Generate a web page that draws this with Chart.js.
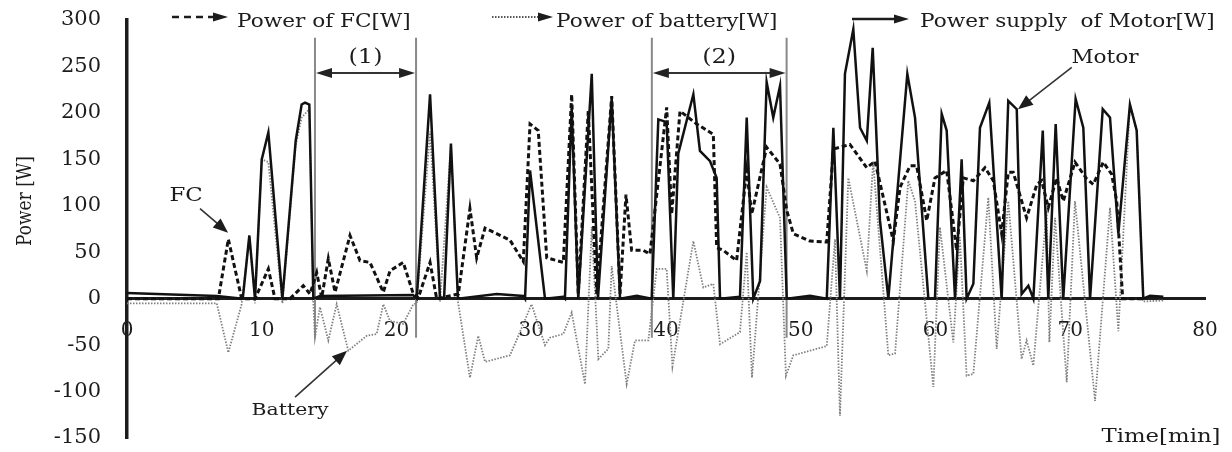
<!DOCTYPE html>
<html>
<head>
<meta charset="utf-8">
<title>Power of FC, battery and motor</title>
<script src="https://cdn.jsdelivr.net/npm/chart.js@4"></script>
<style>
  html, body { margin: 0; padding: 0; background: #fff; }
  #chart { display: block; }
</style>
</head>
<body>
<canvas id="chart" width="1232" height="452"></canvas>
<script>
"use strict";

// Motor supply [W] against time [min]
const motorTime = [0, 6.66, 8.59, 9.08, 9.50, 10.0, 10.49, 11.53, 12.52, 12.96, 13.21, 13.53, 13.83, 14.32, 21.22, 21.50, 22.49, 23.23, 23.53, 24.04, 24.56, 27.44, 29.41, 29.54, 29.91, 31.02, 32.36, 32.50, 33.00, 33.49, 34.49, 34.95, 35.97, 36.59, 37.83, 38.94, 39.43, 40.05, 40.54, 40.91, 42.03, 42.52, 43.27, 43.76, 44.01, 45.49, 45.99, 46.48, 46.98, 47.47, 47.96, 48.46, 48.96, 50.69, 51.93, 52.42, 52.91, 53.28, 53.90, 54.40, 54.90, 55.34, 55.88, 56.50, 57.91, 58.48, 59.47, 59.96, 60.46, 60.83, 61.45, 61.94, 62.31, 62.81, 63.30, 63.99, 64.91, 65.40, 66.03, 66.39, 66.89, 67.26, 67.96, 68.37, 68.92, 69.48, 70.40, 70.97, 71.47, 72.41, 72.95, 73.57, 74.43, 74.93, 75.42, 75.92, 76.91];
const motorPower = [6, 3, 0, 68, 0, 150, 179, 0, 170, 209, 211, 209, 0, 3, 4, 0, 220, 0, 0, 167, 0, 5, 3, 0, 138, 0, 2, 0, 205, 0, 242, 0, 216, 0, 3, 0, 193, 190, 0, 156, 220, 159, 148, 130, 0, 2, 195, 0, 19, 233, 195, 229, 0, 3, 0, 184, 0, 242, 290, 184, 170, 270, 84, 0, 242, 195, 0, 0, 199, 181, 0, 150, 0, 16, 184, 211, 0, 213, 204, 5, 14, 0, 181, 0, 188, 0, 215, 184, 0, 204, 195, 70, 209, 181, 0, 3, 2];

// Fuel cell output [W]
const fcTime = [0, 6.78, 7.52, 8.51, 9.50, 10.49, 10.98, 12.10, 13.08, 13.58, 14.08, 14.45, 14.94, 15.44, 16.55, 17.29, 18.03, 19.02, 19.52, 20.50, 21.25, 21.62, 22.49, 22.98, 24.59, 25.45, 25.95, 26.57, 28.42, 29.41, 29.91, 30.52, 31.15, 32.38, 33.00, 33.49, 34.23, 34.86, 35.97, 36.59, 37.03, 37.45, 38.32, 38.81, 40.05, 40.42, 41.04, 42.28, 43.51, 43.76, 44.25, 45.24, 45.99, 46.36, 47.47, 48.46, 48.96, 49.45, 50.69, 51.93, 52.42, 53.65, 54.90, 55.51, 56.87, 57.37, 58.11, 58.60, 59.35, 59.96, 60.83, 61.57, 62.06, 62.81, 63.67, 64.29, 64.91, 65.40, 65.77, 66.76, 67.52, 67.88, 68.37, 68.99, 69.48, 70.35, 71.22, 71.71, 72.45, 73.07, 73.45, 73.89, 75.42];
const fcPower = [0, 0, 64, 0, 0, 32, 0, 0, 14, 5, 28, 1, 43, 7, 68, 41, 39, 7, 30, 39, 5, 1, 39, 0, 5, 97, 44, 76, 63, 40, 188, 181, 44, 39, 220, 5, 202, 5, 218, 5, 112, 52, 52, 48, 206, 91, 202, 188, 177, 55, 52, 41, 138, 91, 163, 145, 95, 70, 62, 61, 161, 166, 141, 148, 62, 120, 143, 143, 84, 130, 138, 52, 130, 127, 141, 127, 70, 136, 136, 87, 123, 127, 98, 130, 105, 147, 129, 123, 147, 134, 105, 0, 0];

// Battery output [W], negative while charging
const batteryTime = [0, 6.66, 7.52, 8.51, 9.08, 9.50, 10.0, 10.49, 11.53, 12.52, 12.96, 13.53, 13.83, 13.95, 14.32, 14.94, 15.56, 16.42, 17.79, 18.53, 19.02, 19.52, 20.50, 21.25, 21.50, 22.49, 23.23, 24.04, 24.56, 25.45, 26.07, 26.57, 28.42, 28.90, 30.02, 31.02, 31.39, 32.38, 33.00, 33.99, 34.49, 34.98, 35.72, 35.97, 37.08, 37.70, 38.69, 39.31, 40.05, 40.48, 42.03, 42.77, 43.51, 44.01, 45.49, 45.99, 46.38, 47.47, 48.46, 48.90, 49.45, 50.69, 51.93, 52.54, 52.91, 53.53, 54.90, 55.37, 56.50, 57.00, 57.98, 58.48, 59.84, 60.33, 61.32, 61.81, 62.31, 62.81, 63.92, 64.54, 65.40, 66.39, 66.76, 67.26, 68.25, 68.45, 68.87, 69.74, 70.35, 71.84, 72.95, 73.57, 74.43, 74.93, 75.42, 76.91];
const batteryPower = [-5, -5, -58, -6, 68, -5, 150, 147, -5, 165, 195, 204, -5, -42, -9, -45, -6, -56, -40, -38, -6, -24, -27, -6, -5, 180, -3, 166, -3, -85, -40, -68, -61, -45, -6, -50, -42, -38, -15, -92, 77, -65, -54, 35, -92, -45, -45, 32, 32, -73, 62, 12, 16, -49, -36, 50, -85, 120, 87, -83, -61, -56, -51, 64, -126, 130, 30, 148, -61, -59, 127, 105, -95, 77, -47, 66, -83, -81, 109, -54, 105, -65, -45, -72, 95, -47, 87, -90, 105, -110, 98, -35, 209, 181, -3, -2];

const timeRange = [0, 80];
const powerRange = [-150, 300];

const serif = "'DejaVu Serif', serif";
const ink = "#1c1c1c";

function points(times, values) {
    return times.map((t, i) => ({ x: t, y: values[i] }));
}

// the lettering in the original is a little wider than DejaVu, so stretch it
function wideText(ctx, text, px, py, size, align, baseline, stretch = 1.2) {
    ctx.save();
    ctx.font = `${size}px ${serif}`;
    ctx.fillStyle = ink;
    ctx.textAlign = align;
    ctx.textBaseline = baseline;
    ctx.translate(px, py);
    ctx.scale(stretch, 1);
    ctx.fillText(text, 0, 0);
    ctx.restore();
}

function arrowHead(ctx, fromX, fromY, toX, toY, len, half) {
    const a = Math.atan2(toY - fromY, toX - fromX);
    const bx = toX - len * Math.cos(a);
    const by = toY - len * Math.sin(a);
    ctx.beginPath();
    ctx.moveTo(toX, toY);
    ctx.lineTo(bx + half * Math.sin(a), by - half * Math.cos(a));
    ctx.lineTo(bx - half * Math.sin(a), by + half * Math.cos(a));
    ctx.closePath();
    ctx.fill();
}

function line(ctx, x1, y1, x2, y2, color, width, dash = []) {
    ctx.save();
    ctx.strokeStyle = color;
    ctx.lineWidth = width;
    ctx.setLineDash(dash);
    ctx.beginPath();
    ctx.moveTo(x1, y1);
    ctx.lineTo(x2, y2);
    ctx.stroke();
    ctx.restore();
}

// legend along the top edge (canvas pixels)
const legendItems = [
    { text: "Power of FC[W]", x0: 172, x1: 228, y: 17, dash: [7, 5], width: 2.5, color: ink, tx: 237 },
    { text: "Power of battery[W]", x0: 492, x1: 553, y: 17, dash: [1.5, 1.5], width: 2, color: "#555", tx: 556 },
    { text: "Power supply  of Motor[W]", x0: 852, x1: 909, y: 19, dash: [], width: 2.5, color: ink, tx: 920 }
];

// marked intervals and callouts, in data units
const regions = [
    { label: "(1)", from: 13.95, to: 21.45 },
    { label: "(2)", from: 38.95, to: 48.95 }
];
const callouts = [
    { text: "FC", at: [4.38, 110], from: [5.42, 97], to: [7.5, 71], size: 19 },
    { text: "Battery", at: [12.1, -120], from: [12.47, -106], to: [16.33, -56], size: 17 },
    { text: "Motor", at: [72.58, 259], from: [70.11, 249], to: [66.12, 204], size: 18 }
];

const overlay = {
    id: "overlay",
    beforeDatasetsDraw(chart) {
        const { ctx, scales: { x, y } } = chart;
        regions.forEach(r => {
            [r.from, r.to].forEach(t => {
                const px = x.getPixelForValue(t);
                line(ctx, px, y.getPixelForValue(281), px, y.getPixelForValue(-42), "#888", 2);
            });
        });
    },
    afterDraw(chart) {
        const { ctx, scales: { x, y } } = chart;
        ctx.save();
        ctx.fillStyle = ink;

        legendItems.forEach(item => {
            line(ctx, item.x0, item.y, item.x1 - 12, item.y, item.color, item.width, item.dash);
            arrowHead(ctx, item.x0, item.y, item.x1, item.y, 15, 4.5);
            wideText(ctx, item.text, item.tx, 26.5, 18, "left", "alphabetic");
        });

        regions.forEach(r => {
            const xa = x.getPixelForValue(r.from);
            const xb = x.getPixelForValue(r.to);
            const py = y.getPixelForValue(243);
            line(ctx, xa + 10, py, xb - 10, py, "#333", 2);
            ctx.fillStyle = "#222";
            arrowHead(ctx, xb, py, xa + 1, py, 16, 5);
            arrowHead(ctx, xa, py, xb - 1, py, 16, 5);
            wideText(ctx, r.label, (xa + xb) / 2, y.getPixelForValue(259), 20, "center", "middle");
        });

        callouts.forEach(c => {
            const fx = x.getPixelForValue(c.from[0]);
            const fy = y.getPixelForValue(c.from[1]);
            const tx = x.getPixelForValue(c.to[0]);
            const ty = y.getPixelForValue(c.to[1]);
            const a = Math.atan2(ty - fy, tx - fx);
            line(ctx, fx, fy, tx - 10 * Math.cos(a), ty - 10 * Math.sin(a), "#333", 1.6);
            ctx.fillStyle = ink;
            arrowHead(ctx, fx, fy, tx, ty, 15, 6);
            wideText(ctx, c.text, x.getPixelForValue(c.at[0]), y.getPixelForValue(c.at[1]), c.size, "center", "middle");
        });

        // axis titles
        ctx.save();
        ctx.translate(26, 201);
        ctx.rotate(-Math.PI / 2);
        ctx.scale(1, 1.2);
        ctx.font = `17px ${serif}`;
        ctx.fillStyle = ink;
        ctx.textAlign = "center";
        ctx.textBaseline = "middle";
        ctx.fillText("Power [W]", 0, 0);
        ctx.restore();

        wideText(ctx, "Time[min]", 1161, 437, 19, "center", "middle");
        ctx.restore();
    }
};

new Chart(document.getElementById("chart"), {
    type: "line",
    data: {
        datasets: [
            { label: "Motor", data: points(motorTime, motorPower), borderColor: "#111", borderWidth: 2.5, order: 0 },
            { label: "FC", data: points(fcTime, fcPower), borderColor: "#111", borderWidth: 3, borderDash: [5, 3], order: 1 },
            { label: "Battery", data: points(batteryTime, batteryPower), borderColor: "#808080", borderWidth: 1.8, borderDash: [1.5, 1.5], order: 2 }
        ]
    },
    options: {
        responsive: false,
        animation: false,
        devicePixelRatio: 1,
        layout: { padding: { top: 20, right: 27, bottom: 14, left: 0 } },
        elements: { point: { radius: 0 }, line: { tension: 0, fill: false } },
        plugins: { legend: { display: false }, tooltip: { enabled: false } },
        scales: {
            x: {
                type: "linear",
                min: timeRange[0],
                max: timeRange[1],
                position: { y: 0 },
                grid: { display: false, drawTicks: false },
                border: { display: true, width: 3, color: ink },
                ticks: { stepSize: 10, padding: 20, maxRotation: 0, color: ink, font: { family: serif, size: 20 } },
                // the axis sits inside the plot, so it should not take room from it
                afterFit(scale) { scale.height = 0; scale.paddingLeft = 0; scale.paddingRight = 0; }
            },
            y: {
                min: powerRange[0],
                max: powerRange[1],
                grid: { display: false, drawTicks: false },
                border: { display: true, width: 3.5, color: ink },
                ticks: { stepSize: 50, padding: 26, color: ink, font: { family: serif, size: 21 } },
                afterFit(scale) { scale.width = 127; scale.paddingTop = 0; scale.paddingBottom = 0; }
            }
        }
    },
    plugins: [overlay]
});
</script>
</body>
</html>
